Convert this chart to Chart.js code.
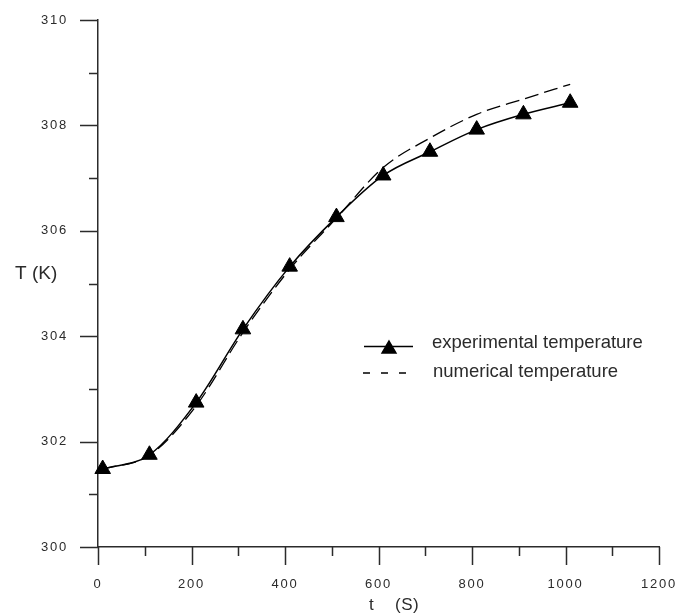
<!DOCTYPE html>
<html>
<head>
<meta charset="utf-8">
<title>Temperature vs time</title>
<script src="https://cdn.jsdelivr.net/npm/chart.js@4.4.1/dist/chart.umd.min.js"></script>
<style>
  html, body { margin: 0; padding: 0; background: #fff; }
  canvas { display: block; }
</style>
</head>
<body>
<canvas id="tempChart" width="693" height="615"></canvas>
<script>
// time (s) and measured / computed temperature (K)
const times = [10, 110, 210, 310, 410, 510, 610, 710, 810, 910, 1010];
const experimental = [301.48, 301.75, 302.74, 304.13, 305.32, 306.26, 307.05, 307.50, 307.92, 308.21, 308.43];
const numerical = [301.48, 301.74, 302.68, 304.07, 305.27, 306.24, 307.20, 307.76, 308.21, 308.50, 308.78];

const xTitle = 't    (S)';
const yTitle = 'T (K)';
const legendLabels = ['experimental temperature', 'numerical temperature'];

const ink = '#2b2b2b';
const labelFont = '"Liberation Sans", Arial, sans-serif';

function toPoints(xs, ys) {
    return xs.map((x, i) => ({ x: x, y: ys[i] }));
}

// wide-set tick digits, reset before the curves are drawn
const spacing = {
    id: 'spacing',
    beforeDraw(chart) { chart.ctx.letterSpacing = '1.8px'; },
    beforeDatasetsDraw(chart) { chart.ctx.letterSpacing = '0px'; }
};

// outside tick marks: long on labelled values, short in between
const tickMarks = {
    id: 'tickMarks',
    afterDraw(chart) {
        const ctx = chart.ctx;
        const xs = chart.scales.x, ys = chart.scales.y;
        const area = chart.chartArea;
        ctx.save();
        ctx.strokeStyle = ink;
        ctx.lineWidth = 1.5;
        ctx.beginPath();
        xs.ticks.forEach(t => {
            const px = Math.round(xs.getPixelForValue(t.value)) + 0.5;
            const len = t.value % 200 === 0 ? 18 : 9;
            ctx.moveTo(px, area.bottom);
            ctx.lineTo(px, area.bottom + len);
        });
        ys.ticks.forEach(t => {
            const py = Math.round(ys.getPixelForValue(t.value)) + 0.5;
            const len = t.value % 2 === 0 ? 18 : 9;
            ctx.moveTo(area.left - len, py);
            ctx.lineTo(area.left, py);
        });
        ctx.stroke();
        ctx.restore();
    }
};

// axis titles and the in-plot legend
const annotations = {
    id: 'annotations',
    afterDraw(chart) {
        const ctx = chart.ctx;
        ctx.save();
        ctx.fillStyle = ink;
        ctx.textBaseline = 'alphabetic';
        ctx.textAlign = 'left';

        ctx.font = '19px ' + labelFont;
        ctx.fillText(yTitle, 15, 279);
        ctx.font = '17px ' + labelFont;
        ctx.letterSpacing = '0.5px';
        ctx.fillText(xTitle, 369, 610);
        ctx.letterSpacing = '0px';

        // legend
        ctx.strokeStyle = '#000';
        ctx.fillStyle = '#000';
        ctx.lineWidth = 1.5;
        ctx.beginPath();
        ctx.moveTo(364, 346.5);
        ctx.lineTo(413, 346.5);
        ctx.stroke();
        Chart.helpers.drawPoint(ctx, { pointStyle: 'triangle', radius: 8, borderWidth: 1 }, 389, 349);
        ctx.fill();

        ctx.setLineDash([7, 11]);
        ctx.lineWidth = 1.3;
        ctx.beginPath();
        ctx.moveTo(363, 373);
        ctx.lineTo(413, 373);
        ctx.stroke();
        ctx.setLineDash([]);

        ctx.fillStyle = ink;
        ctx.font = '18.5px ' + labelFont;
        ctx.fillText(legendLabels[0], 432, 348);
        ctx.fillText(legendLabels[1], 433, 377);
        ctx.restore();
    }
};

new Chart(document.getElementById('tempChart'), {
    type: 'line',
    data: {
        datasets: [{
            label: legendLabels[0],
            data: toPoints(times, experimental),
            borderColor: '#000',
            backgroundColor: '#000',
            borderWidth: 1.5,
            pointStyle: 'triangle',
            pointRadius: 9,
            pointBorderWidth: 1,
            pointBackgroundColor: '#000',
            cubicInterpolationMode: 'monotone',
            clip: false
        }, {
            label: legendLabels[1],
            data: toPoints(times, numerical),
            borderColor: '#000',
            borderWidth: 1.3,
            borderDash: [14, 6],
            pointRadius: 0,
            cubicInterpolationMode: 'monotone',
            clip: false
        }]
    },
    options: {
        responsive: false,
        animation: false,
        layout: { padding: { top: 20, right: 34, left: 0, bottom: 0 } },
        plugins: {
            legend: { display: false },
            tooltip: { enabled: false }
        },
        scales: {
            x: {
                type: 'linear',
                min: 0,
                max: 1200,
                afterFit(scale) {
                    scale.height = 68;
                    scale.paddingLeft = 0;
                    scale.paddingRight = 0;
                },
                grid: { display: false },
                border: { display: true, color: ink, width: 1.5 },
                ticks: {
                    stepSize: 100,
                    autoSkip: false,
                    maxRotation: 0,
                    padding: 22,
                    color: ink,
                    font: { family: labelFont, size: 13 },
                    callback: v => (v % 200 === 0 ? String(v) : '')
                }
            },
            y: {
                min: 300,
                max: 310,
                afterFit(scale) {
                    scale.width = 98;
                    scale.paddingTop = 0;
                    scale.paddingBottom = 0;
                },
                grid: { display: false },
                border: { display: true, color: ink, width: 1.5 },
                ticks: {
                    stepSize: 1,
                    autoSkip: false,
                    padding: 22,
                    color: ink,
                    font: { family: labelFont, size: 13 },
                    callback: v => (v % 2 === 0 ? String(v) : '')
                }
            }
        }
    },
    plugins: [spacing, tickMarks, annotations]
});
</script>
</body>
</html>
